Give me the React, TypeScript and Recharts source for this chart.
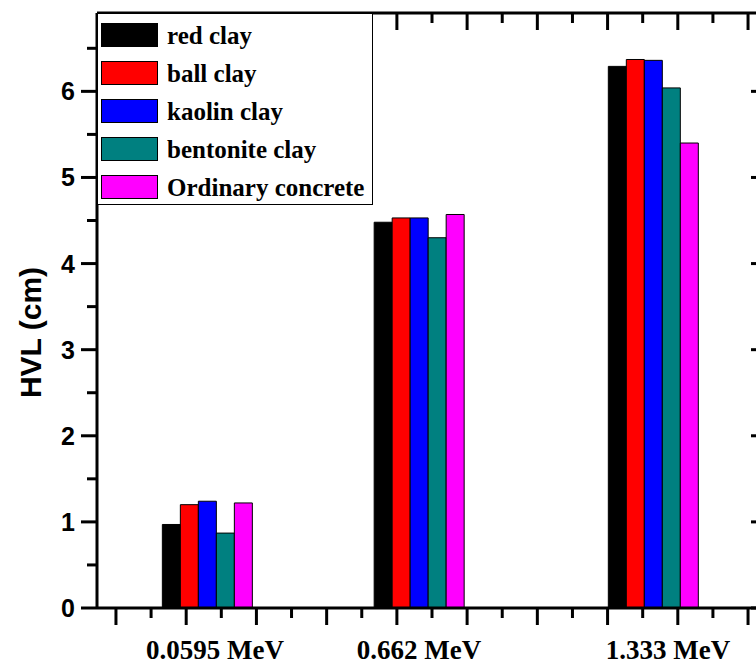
import { Bar, BarChart, Legend, XAxis, YAxis } from "recharts";

// group centres on the numeric x axis (major tick spacing = 1)
const groupPos = [1.3, 4.316, 7.65];
const energyLabels = ["0.0595 MeV", "0.662 MeV", "1.333 MeV"];
const labelPos = [1.41, 4.316, 7.86];

const redClay = [0.97, 4.48, 6.29];
const ballClay = [1.2, 4.53, 6.37];
const kaolinClay = [1.24, 4.53, 6.36];
const bentoniteClay = [0.87, 4.3, 6.04];
const concrete = [1.22, 4.57, 5.4];

const yTicks = [0, 0.5, 1, 1.5, 2, 2.5, 3, 3.5, 4, 4.5, 5, 5.5, 6, 6.5];
const xTicks = [0, 0.5, 1, 1.5, 2, 2.5, 3, 3.5, 4, 4.5, 5, 5.5, 6, 6.5, 7, 7.5, 8, 8.5, 9];

const series = [
  { key: "red", name: "red clay", color: "#000000", values: redClay },
  { key: "ball", name: "ball clay", color: "#ff0000", values: ballClay },
  { key: "kaolin", name: "kaolin clay", color: "#0000ff", values: kaolinClay },
  { key: "bentonite", name: "bentonite clay", color: "#008080", values: bentoniteClay },
  { key: "concrete", name: "Ordinary concrete", color: "#ff00ff", values: concrete },
];

const data = groupPos.map((x, i) => {
  const row: Record<string, number> = { x };
  series.forEach((s) => {
    row[s.key] = s.values[i];
  });
  return row;
});

const X_DOMAIN = [-0.27, 9.27];
const Y_DOMAIN = [0, 6.91];
const SANS = "'Liberation Sans', Arial, sans-serif";
const SERIF = "'Liberation Serif', 'Times New Roman', serif";

const isMajor = (v: number) => Number.isInteger(v);

function LeftTick({ x, y, payload }: any) {
  const v = payload.value;
  const len = isMajor(v) ? 16 : 10;
  return (
    <g>
      <line x1={x} x2={x - len} y1={y} y2={y} stroke="#000" strokeWidth={3} />
      {isMajor(v) && (
        <text
          x={x - len - 6}
          y={y}
          dy="0.36em"
          textAnchor="end"
          fontFamily={SANS}
          fontWeight="bold"
          fontSize={25}
          fill="#000"
        >
          {v}
        </text>
      )}
    </g>
  );
}

function RightTick({ x, y, payload }: any) {
  const len = isMajor(payload.value) ? 16 : 10;
  return <line x1={x} x2={x - len} y1={y} y2={y} stroke="#000" strokeWidth={3} />;
}

function BottomTick({ x, y, payload }: any) {
  const len = isMajor(payload.value) ? 17 : 10;
  return <line x1={x} x2={x} y1={y} y2={y + len} stroke="#000" strokeWidth={3} />;
}

function TopTick({ x, y, payload }: any) {
  const len = isMajor(payload.value) ? 17 : 10;
  return <line x1={x} x2={x} y1={y} y2={y + len} stroke="#000" strokeWidth={3} />;
}

function LabelTick({ x, y, payload }: any) {
  const i = labelPos.indexOf(payload.value);
  return (
    <text
      x={x}
      y={y + 51}
      textAnchor="middle"
      fontFamily={SERIF}
      fontWeight="bold"
      fontSize={27}
      fill="#000"
    >
      {energyLabels[i]}
    </text>
  );
}

function LegendBox() {
  return (
    <div
      style={{
        boxSizing: "border-box",
        width: 276,
        height: 192,
        border: "1px solid #000",
        background: "#fff",
        paddingTop: 2,
        paddingLeft: 3,
      }}
    >
      {series.map((s) => (
        <div key={s.key} style={{ display: "flex", alignItems: "center", height: 38 }}>
          <div
            style={{
              boxSizing: "border-box",
              width: 57,
              height: 24,
              background: s.color,
              border: "1px solid #000",
              marginRight: 9,
            }}
          />
          <span
            style={{
              fontFamily: SERIF,
              fontWeight: "bold",
              fontSize: 25,
              color: "#000",
              whiteSpace: "nowrap",
              lineHeight: 1,
            }}
          >
            {s.name}
          </span>
        </div>
      ))}
    </div>
  );
}

export default function App() {
  return (
    <>
      <style>{"body{margin:0}"}</style>
      <BarChart
        width={756}
        height={667}
        data={data}
        barGap={0}
        margin={{ top: 13, right: -11, left: 0, bottom: 0 }}
      >
        <XAxis
          xAxisId="bottom"
          dataKey="x"
          type="number"
          domain={X_DOMAIN}
          allowDataOverflow
          ticks={xTicks}
          interval={0}
          height={59}
          tickSize={0}
          tickMargin={0}
          tickLine={false}
          axisLine={{ stroke: "#000", strokeWidth: 3 }}
          tick={<BottomTick />}
        />
        <XAxis
          xAxisId="labels"
          dataKey="x"
          type="number"
          orientation="bottom"
          mirror
          domain={X_DOMAIN}
          allowDataOverflow
          ticks={labelPos}
          interval={0}
          height={1}
          tickSize={0}
          tickMargin={0}
          tickLine={false}
          axisLine={false}
          tick={<LabelTick />}
        />
        <XAxis
          xAxisId="top"
          dataKey="x"
          type="number"
          orientation="top"
          mirror
          domain={X_DOMAIN}
          allowDataOverflow
          ticks={xTicks}
          interval={0}
          height={1}
          tickSize={0}
          tickMargin={0}
          tickLine={false}
          axisLine={{ stroke: "#000", strokeWidth: 3 }}
          tick={<TopTick />}
        />
        <YAxis
          yAxisId="left"
          type="number"
          domain={Y_DOMAIN}
          allowDataOverflow
          ticks={yTicks}
          interval={0}
          width={97}
          tickSize={0}
          tickMargin={0}
          tickLine={false}
          axisLine={{ stroke: "#000", strokeWidth: 3 }}
          tick={<LeftTick />}
          label={({ viewBox }: any) => {
            const cx = viewBox.x + 30;
            const cy = viewBox.y + viewBox.height / 2 + 22;
            return (
              <text
                x={cx}
                y={cy}
                transform={`rotate(-90, ${cx}, ${cy})`}
                textAnchor="middle"
                dy="0.36em"
                fontFamily={SANS}
                fontWeight="bold"
                fontSize={30}
                fill="#000"
              >
                HVL (cm)
              </text>
            );
          }}
        />
        <YAxis
          yAxisId="right"
          type="number"
          orientation="right"
          mirror
          domain={Y_DOMAIN}
          allowDataOverflow
          ticks={yTicks}
          interval={0}
          width={1}
          tickSize={0}
          tickMargin={0}
          tickLine={false}
          axisLine={{ stroke: "#000", strokeWidth: 3 }}
          tick={<RightTick />}
        />
        <Legend
          layout="vertical"
          align="center"
          verticalAlign="middle"
          wrapperStyle={{ left: 97, top: 13, width: 276 }}
          content={<LegendBox />}
        />
        {series.map((s) => (
          <Bar
            key={s.key}
            dataKey={s.key}
            name={s.name}
            xAxisId="bottom"
            yAxisId="left"
            fill={s.color}
            stroke="#000"
            strokeWidth={1}
            barSize={18}
            isAnimationActive={false}
          />
        ))}
      </BarChart>
    </>
  );
}
